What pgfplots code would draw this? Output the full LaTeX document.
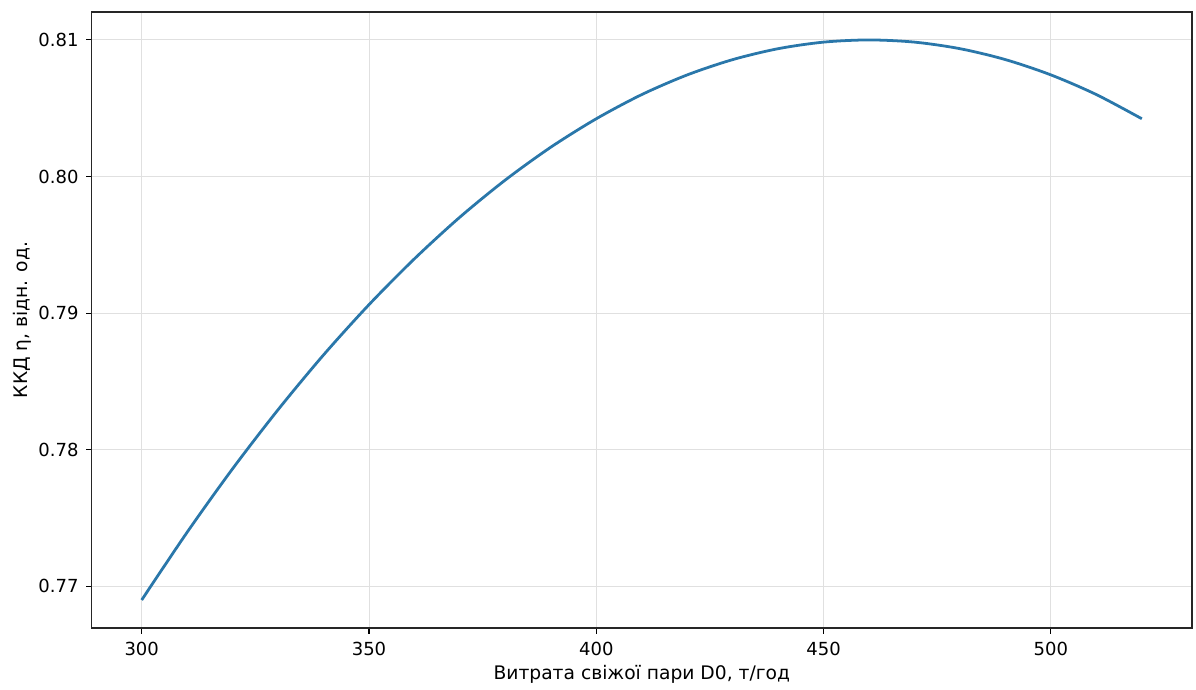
\documentclass[border=0pt]{standalone}
\usepackage{pgfplots}
\pgfplotsset{compat=1.18}
\usepackage{fontspec}
\setmainfont{DejaVu Sans}
\definecolor{lineblue}{HTML}{2A77AA}
\begin{document}
\begin{tikzpicture}
\begin{axis}[
  scale only axis,
  width=792bp, height=443.5bp,
  xmin=289, xmax=531,
  ymin=0.76695, ymax=0.81205,
  xtick={300,350,400,450,500},
  ytick={0.77,0.78,0.79,0.80,0.81},
  yticklabel style={/pgf/number format/fixed,/pgf/number format/fixed zerofill,/pgf/number format/precision=2,xshift=-2bp},
  /pgf/number format/assume math mode=true,
  tick align=outside,
  tick pos=left,
  major tick length=4bp,
  every tick/.style={black, line width=0.8bp},
  axis line style={black!85, line width=1bp},
  grid=major,
  major grid style={black!12, line width=0.7bp},
  ticklabel style={font=\fontsize{13}{15}\selectfont},
  xticklabel style={yshift=-3bp},
  xlabel={Витрата свіжої пари D0, т/год},
  ylabel={ККД η, відн. од.},
  label style={font=\fontsize{13.5}{16}\selectfont},
  xlabel style={yshift=0bp},
  ylabel style={yshift=-2bp},
]
\addplot[lineblue, line width=2bp, smooth] coordinates {
(300,0.76900) (310,0.77396) (320,0.77861) (330,0.78293) (340,0.78694)
(350,0.79062) (360,0.79398) (370,0.79703) (380,0.79975) (390,0.80215)
(400,0.80423) (410,0.80600) (420,0.80744) (430,0.80856) (440,0.80936)
(450,0.80984) (460,0.81000) (470,0.80984) (480,0.80936) (490,0.80856)
(500,0.80744) (510,0.80600) (520,0.80423)
};
\end{axis}
\path ([xshift=-66bp,yshift=-44.6bp]current axis.south west);
\path ([xshift=3bp,yshift=8.6bp]current axis.north east);
\end{tikzpicture}
\end{document}
